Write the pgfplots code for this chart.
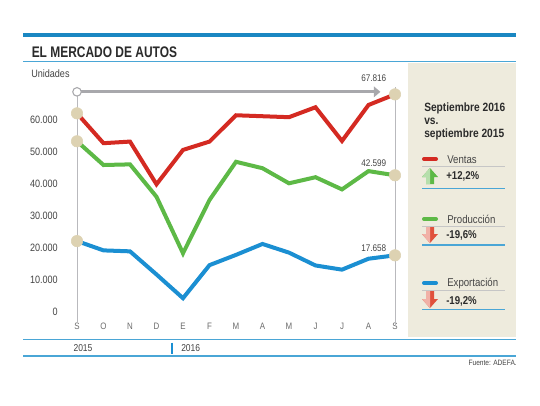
\documentclass[border=0pt]{standalone}
\usepackage{pgfplots}
\pgfplotsset{compat=1.18}
\usetikzlibrary{arrows.meta}
\usepackage{fontspec}
\setmainfont{Liberation Sans}[FakeStretch=0.85]
\newfontfamily\titlefont{Liberation Sans}[FakeStretch=0.78]
\definecolor{cred}{HTML}{D42A22}
\definecolor{cgreen}{HTML}{5DB946}
\definecolor{cblue}{HTML}{1B8FD2}
\definecolor{cbar}{HTML}{1A87C2}
\definecolor{cline}{HTML}{4AA6D6}
\definecolor{cpanel}{HTML}{EEEBDD}
\definecolor{chalo}{HTML}{DDD2B2}
\definecolor{cgray}{HTML}{A8A8AC}
\definecolor{ctext}{HTML}{2B2B2B}
\definecolor{ctick}{HTML}{444444}
\definecolor{cdown}{HTML}{E0513C}
\begin{document}
\begin{tikzpicture}
\useasboundingbox (0,0) rectangle (405pt,-303.75pt);
\fill[white] (0,0) rectangle (405pt,-303.75pt);
\begin{scope}[x=0.75pt,y=-0.75pt]
 \fill[cpanel] (408,62.5) rectangle (516,337);
 \draw[cbar, line width=3pt] (23,35) -- (516,35);
 \draw[cline, line width=1.1pt] (23,61.7) -- (516,61.7);
 \node[anchor=base west, inner sep=0pt, text=ctext, font=\titlefont\bfseries\fontsize{11.5}{12}\selectfont] at (31.5,57.7) {EL MERCADO DE AUTOS};
 \node[anchor=base west, inner sep=0pt, text=ctick, font=\fontsize{8}{9}\selectfont] at (31,77.3) {Unidades};
 % legend panel
 \node[anchor=base west, inner sep=0pt, text=ctext, font=\bfseries\fontsize{9}{10}\selectfont] at (424,111.5) {Septiembre 2016};
 \node[anchor=base west, inner sep=0pt, text=ctext, font=\bfseries\fontsize{9}{10}\selectfont] at (424,124.5) {vs.};
 \node[anchor=base west, inner sep=0pt, text=ctext, font=\bfseries\fontsize{9}{10}\selectfont] at (424,137.5) {septiembre 2015};
 % Ventas
 \draw[cred, line width=3pt, line cap=round] (424,159) -- (436,159);
 \node[anchor=base west, inner sep=0pt, text=ctick, font=\fontsize{8.5}{9}\selectfont] at (447,163) {Ventas};
 \draw[gray!45, line width=0.6pt] (422,166.7) -- (505,166.7);
 \fill[cgreen] (422,177) -- (430,168) -- (438,177) -- (434,177) -- (434,184) -- (426,184) -- (426,177) -- cycle;
 \fill[cgreen!45!white] (422,177) -- (430,168) -- (430,184) -- (426,184) -- (426,177) -- cycle;
 \node[anchor=base west, inner sep=0pt, text=ctext, font=\bfseries\fontsize{8.5}{9}\selectfont] at (446,179) {+12,2\%};
 \draw[cline, line width=1.1pt] (422,188.3) -- (505,188.3);
 % Produccion
 \draw[cgreen, line width=3pt, line cap=round] (424,219) -- (436,219);
 \node[anchor=base west, inner sep=0pt, text=ctick, font=\fontsize{8.5}{9}\selectfont] at (447,223) {Producción};
 \draw[gray!45, line width=0.6pt] (422,226) -- (505,226);
 \fill[cdown] (422,234) -- (430,243) -- (438,234) -- (434,234) -- (434,227) -- (426,227) -- (426,234) -- cycle;
 \fill[cdown!45!white] (422,234) -- (430,243) -- (430,227) -- (426,227) -- (426,234) -- cycle;
 \node[anchor=base west, inner sep=0pt, text=ctext, font=\bfseries\fontsize{8.5}{9}\selectfont] at (446,238.5) {-19,6\%};
 \draw[cline, line width=1.1pt] (422,244.8) -- (505,244.8);
 % Exportacion
 \draw[cblue, line width=3pt, line cap=round] (424,283) -- (436,283);
 \node[anchor=base west, inner sep=0pt, text=ctick, font=\fontsize{8.5}{9}\selectfont] at (447,286) {Exportación};
 \draw[gray!45, line width=0.6pt] (422,290) -- (505,290);
 \fill[cdown] (422,299) -- (430,308) -- (438,299) -- (434,299) -- (434,291) -- (426,291) -- (426,299) -- cycle;
 \fill[cdown!45!white] (422,299) -- (430,308) -- (430,291) -- (426,291) -- (426,299) -- cycle;
 \node[anchor=base west, inner sep=0pt, text=ctext, font=\bfseries\fontsize{8.5}{9}\selectfont] at (446,304) {-19,2\%};
 \draw[cline, line width=1.1pt] (422,309.3) -- (505,309.3);
 % bottom
 \draw[cline, line width=1.1pt] (23,339.3) -- (516,339.3);
 \draw[cline, line width=1.1pt] (23,356) -- (516,356);
 \node[inner sep=0pt, text=ctick, font=\fontsize{7.5}{8}\selectfont] at (83,348) {2015};
 \draw[cblue, line width=1.2pt] (172,342.5) -- (172,353.5);
 \node[anchor=west, inner sep=0pt, text=ctick, font=\fontsize{7.5}{8}\selectfont] at (181,348) {2016};
 \node[anchor=base east, inner sep=0pt, text=ctick, font=\fontsize{5.8}{6}\selectfont] at (517,365) {Fuente: ADEFA.};
\end{scope}
\begin{axis}[
  at={(57.75pt,-234pt)}, anchor=south west,
  scale only axis, width=238.5pt, height=168.5pt,
  xmin=0, xmax=12, ymin=0, ymax=70000,
  axis line style={draw=none}, major tick length=0pt,
  clip=false, scaled y ticks=false,
  xtick={0,...,12},
  xticklabels={S,O,N,D,E,F,M,A,M,J,J,A,S},
  ytick={0,10000,20000,30000,40000,50000,60000},
  yticklabels={0,10.000,20.000,30.000,40.000,50.000,60.000},
  xticklabel style={anchor=north, inner sep=0pt, yshift=-8pt, text=gray!85!black, font=\fontsize{7}{7}\selectfont},
  yticklabel style={anchor=east, inner sep=0pt, xshift=-14.25pt, text=ctick, font=\fontsize{8}{9}\selectfont},
]
\addplot[only marks, color=chalo, mark=*, mark size=4.3pt, mark options={solid, draw=chalo, fill=chalo}] coordinates {(0,61900)(12,67816)(0,53200)(12,42599)(0,22100)(12,17658)};
\addplot[cgray!80, line width=0.6pt, mark=none] coordinates {(0,-3000)(0,68600)};
\addplot[cgray!80, line width=0.6pt, mark=none] coordinates {(12,-4500)(12,70000)};
\addplot[cgray, line width=2.2pt, mark=none, -{Triangle[length=5pt,width=8pt]}] coordinates {(0,68600)(11.45,68600)};
\addplot[only marks, color=cgray, mark=*, mark size=3.2pt, mark options={solid, fill=white, draw=cgray, line width=0.8pt}] coordinates {(0,68600)};
\addplot[cred, line width=3pt, mark=none] coordinates {(0,61900)(1,52600)(2,53100)(3,39800)(4,50500)(5,53100)(6,61300)(7,61000)(8,60700)(9,63800)(10,53300)(11,64500)(12,67816)};
\addplot[cgreen, line width=3pt, mark=none] coordinates {(0,53200)(1,45800)(2,46000)(3,35900)(4,18300)(5,34900)(6,46800)(7,44800)(8,40100)(9,42000)(10,38200)(11,43900)(12,42599)};
\addplot[cblue, line width=3pt, mark=none] coordinates {(0,22100)(1,19200)(2,18900)(3,11700)(4,4300)(5,14600)(6,17800)(7,21200)(8,18500)(9,14500)(10,13200)(11,16600)(12,17658)};
\node[inner sep=0pt, text=ctick, font=\fontsize{7.2}{8}\selectfont] at (axis cs:11.2,72800) {67.816};
\node[inner sep=0pt, text=ctick, font=\fontsize{7.2}{8}\selectfont] at (axis cs:11.2,46500) {42.599};
\node[inner sep=0pt, text=ctick, font=\fontsize{7.2}{8}\selectfont] at (axis cs:11.2,19800) {17.658};
\end{axis}
\end{tikzpicture}
\end{document}
